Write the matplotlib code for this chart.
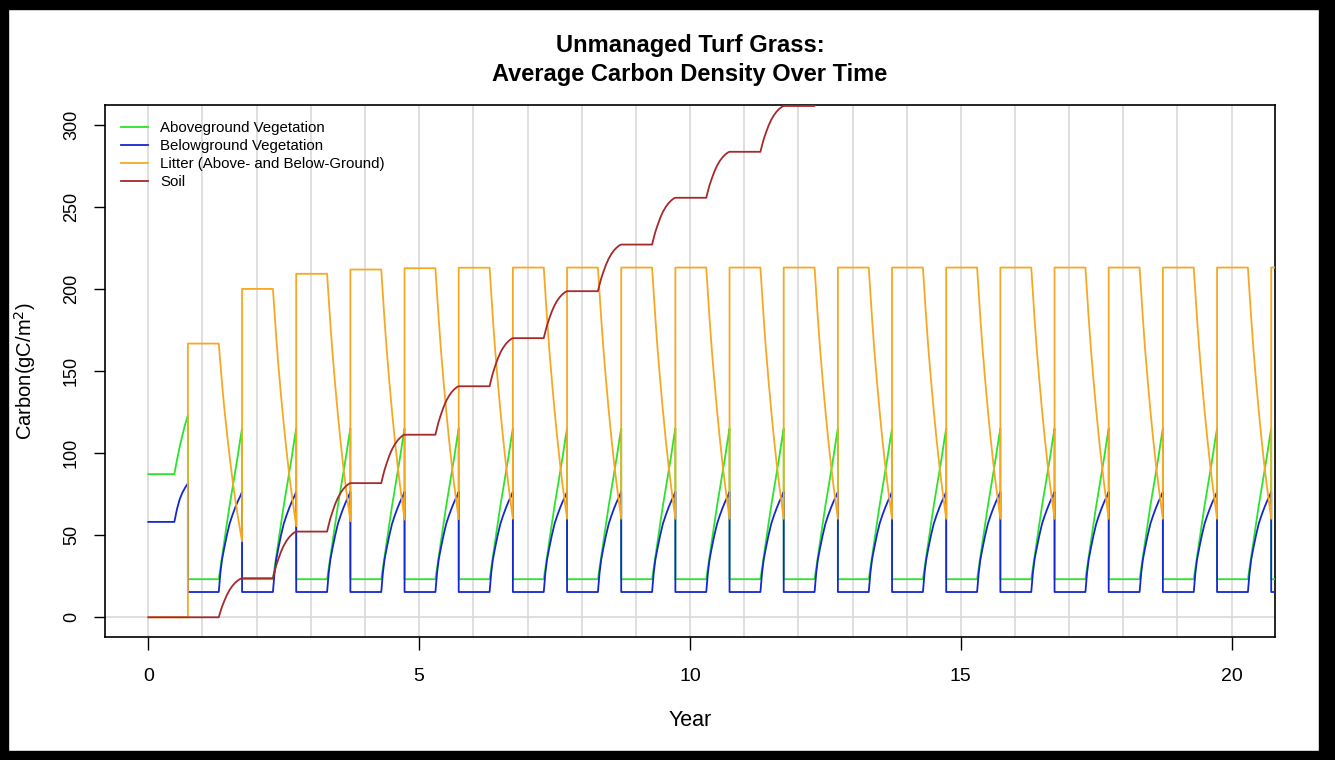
import matplotlib
matplotlib.use("Agg")
import matplotlib.pyplot as plt
from matplotlib.patches import Rectangle
import numpy as np

plt.rcParams['font.family'] = ['Liberation Sans', 'DejaVu Sans']

# ---- values ----
# first (spin-up) part of year 0
init_t = [0.0, 0.48, 0.53, 0.58, 0.63, 0.68, 0.73]
green_init = [87.2, 87.2, 96.0, 104.0, 111.0, 117.5, 123.0]
blue_init = [58.1, 58.1, 66.0, 72.0, 76.0, 79.0, 81.5]

harvest_phase = 0.73          # time in year of the drop
green_low = 23.2
blue_low = 15.4

# shape of one growing season (phase within the year)
season_phase = [0.30, 0.33, 0.36, 0.40, 0.45, 0.50, 0.55, 0.60, 0.65, 0.70, 0.73]
green_season = [23.2, 30.0, 37.0, 46.0, 57.0, 68.0, 78.0, 88.0, 98.0, 109.0, 115.0]
blue_season = [15.4, 27.0, 35.0, 42.0, 50.0, 57.0, 62.0, 66.5, 70.5, 74.0, 76.4]
litter_left = [1.0, 0.90, 0.80, 0.68, 0.55, 0.43, 0.32, 0.22, 0.13, 0.05, 0.0]
soil_gain = [0.0, 0.14, 0.27, 0.41, 0.57, 0.70, 0.80, 0.88, 0.94, 0.985, 1.0]

# litter level right after each harvest (years 0..20) and before the next one
litter_peak = [166.7, 200.0, 209.2, 211.8, 212.6, 212.9, 213.0, 213.0, 213.0, 213.0, 213.0,
               213.0, 213.0, 213.0, 213.0, 213.0, 213.0, 213.0, 213.0, 213.0, 213.0]
litter_low = [46.3, 55.5, 58.5, 59.5, 59.8, 60.0, 60.0, 60.0, 60.0, 60.0,
              60.0, 60.0, 60.0, 60.0, 60.0, 60.0, 60.0, 60.0, 60.0, 60.0]
# soil plateaus
soil_level = [0.0, 23.8, 52.2, 81.7, 111.2, 140.7, 170.0, 198.6, 227.0, 255.5,
              283.5, 311.4, 339.0]

end_t = 21.3

# ---- build the series ----
gt, gv = list(init_t), list(green_init)
bt, bv = list(init_t), list(blue_init)
lt, lv = [0.0, harvest_phase], [0.0, 0.0]
n_years = len(litter_peak)
for k in range(n_years):
    h = k + harvest_phase
    gt.append(h); gv.append(green_low)
    bt.append(h); bv.append(blue_low)
    lt.append(h); lv.append(litter_peak[k])
    if k < len(litter_low):
        for p, g, b, f in zip(season_phase, green_season, blue_season, litter_left):
            gt.append(k + 1 + p); gv.append(g)
            bt.append(k + 1 + p); bv.append(b)
            lt.append(k + 1 + p)
            lv.append(litter_low[k] + f * (litter_peak[k] - litter_low[k]))
gt.append(end_t); gv.append(green_low)
bt.append(end_t); bv.append(blue_low)
lt.append(end_t); lv.append(litter_peak[-1])

st, sv = [0.0], [0.0]
for k in range(len(soil_level) - 1):
    for p, f in zip(season_phase, soil_gain):
        st.append(k + 1 + p)
        sv.append(soil_level[k] + f * (soil_level[k + 1] - soil_level[k]))

# ---- figure ----
fig = plt.figure(figsize=(13.35, 7.6), dpi=100)
W, H = 1335, 760
ax = fig.add_axes([105 / W, 1 - 637 / H, 1170 / W, 532 / H])

for yr in range(0, 22):
    ax.axvline(yr, color='#d9d9d9', lw=1.2, zorder=1)
ax.axhline(0, color='#d9d9d9', lw=1.2, zorder=1)

ax.plot(gt, gv, color='#2ae42a', lw=1.3, label='Aboveground Vegetation', zorder=3)
ax.plot(bt, bv, color='#1428d0', lw=1.3, label='Belowground Vegetation', zorder=3)
ax.plot(lt, lv, color='#f7a823', lw=1.3, label='Litter (Above- and Below-Ground)', zorder=3)
ax.plot(st, sv, color='#a52a2a', lw=1.3, label='Soil', zorder=3)

ax.set_xlim(-0.8, 20.8)
ax.set_ylim(-12, 312)
ax.set_xticks([0, 5, 10, 15, 20])
ax.set_yticks([0, 50, 100, 150, 200, 250, 300])
ax.tick_params(axis='x', length=9, width=1, pad=13, labelsize=14)
ax.tick_params(axis='y', length=8, width=1, pad=10, labelsize=13)
plt.setp(ax.get_yticklabels(), rotation=90, va='center')
for s in ax.spines.values():
    s.set_linewidth(1.2)

ax.legend(loc='upper left', bbox_to_anchor=(0.011, 0.976), frameon=False,
          fontsize=10.8, handlelength=1.8, handletextpad=0.8,
          labelspacing=0.28, borderpad=0.2, borderaxespad=0)

fig.text(690 / W, 1 - 60 / H, 'Unmanaged Turf Grass:\nAverage Carbon Density Over Time',
         ha='center', va='center', fontsize=17, fontweight='bold', linespacing=1.38)
fig.text(690 / W, 1 - 720 / H, 'Year', ha='center', va='center', fontsize=15.5)
fig.text(25 / W, 1 - 371 / H, 'Carbon(gC/m$^2$)', ha='center', va='center',
         rotation=90, fontsize=14.5)

# black frame around the picture
for x0, y0, w, h in [(0, 0, 8, H), (0, H - 9, W, 9), (W - 16, 0, 16, H), (0, 0, W, 9)]:
    fig.add_artist(Rectangle((x0 / W, y0 / H), w / W, h / H, transform=fig.transFigure,
                             color='black', zorder=10))

fig.savefig('out.png', dpi=100, facecolor='white')
